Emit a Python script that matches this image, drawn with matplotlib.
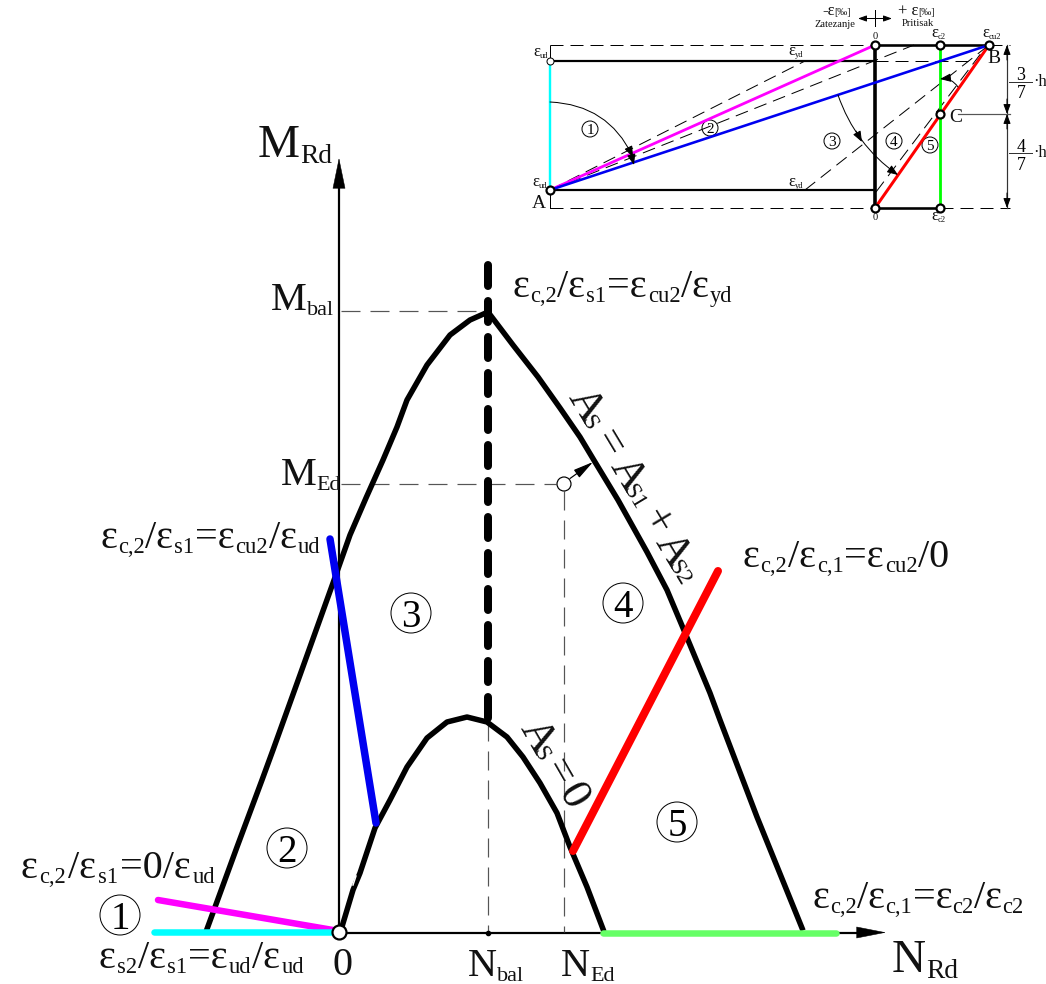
import re
import matplotlib
matplotlib.use("Agg")
import matplotlib.pyplot as plt
import numpy as np
from matplotlib.patches import Circle, FancyArrowPatch

plt.rcParams['font.family'] = ['Liberation Serif', 'DejaVu Sans']
plt.rcParams['lines.scale_dashes'] = False

# main diagram, picture coordinates
outer_x = [207, 237, 262, 273, 300, 333, 350, 366, 383, 397, 407, 427, 450, 470, 488,
           513, 538, 560, 580, 595, 618, 647, 667, 683, 710, 720, 757, 802]
outer_y = [929, 847, 780, 750, 675, 583, 535, 498, 460, 427, 400, 365, 335, 320, 312,
           345, 377, 408, 437, 462, 500, 552, 590, 628, 693, 720, 817, 928]
inner_x = [341, 353, 360, 375, 390, 407, 427, 447, 467, 487, 507, 523, 540, 557, 570, 587, 603]
inner_y = [930, 890, 873, 828, 800, 767, 738, 722, 717, 722, 737, 757, 783, 813, 847, 887, 929]
blue_x, blue_y = [330, 376], [539, 823]
red_x, red_y = [718, 573], [571, 851]
green_x, green_y = [603, 836], [933, 933]
magenta_x, magenta_y = [158, 333], [900, 930]
cyan_x, cyan_y = [154, 333], [932, 932]
balance_x, balance_y = [488, 488], [265, 720]
regions = ['1', '2', '3', '4', '5']
regions_x = [120, 287, 411, 623, 677]
regions_y = [915, 848, 613, 603, 822]

axis_names = ['M_{Rd}', 'N_{Rd}']
axis_names_x = [258, 892]
axis_names_y = [157, 972]
tick_names = ['M_{bal}', 'M_{Ed}', 'N_{bal}', 'N_{Ed}', '0']
tick_names_x = [271, 281, 468, 561, 332]
tick_names_y = [310, 485, 976, 976, 975]
eps_texts = ['ε_{c,2}/ε_{s1}=ε_{cu2}/ε_{yd}', 'ε_{c,2}/ε_{s1}=ε_{cu2}/ε_{ud}', 'ε_{c,2}/ε_{c,1}=ε_{cu2}/0',
             'ε_{c,2}/ε_{c,1}=ε_{c2}/ε_{c2}', 'ε_{c,2}/ε_{s1}=0/ε_{ud}', 'ε_{s2}/ε_{s1}=ε_{ud}/ε_{ud}']
eps_x = [512, 100, 743, 813, 20, 99]
eps_y = [297, 548, 567, 908, 878, 968]
eps_gaps = [0.03, 0.026, 0.025, 0.01, 0.07, 0.035]
steel_parts = ['A_{S}', '=', 'A_{S1}', '+', 'A_{S2}']
steel_offsets = [0, 48, 80, 140, 169]
plain_parts = ['A_{S}', '=', '0']
plain_offsets = [0, 46, 74]

# small section sketch
ix0, ix1, ix2, ix3 = 550, 875, 940, 989
iy0, iy1, iy2, iy3, iy4 = 45, 61, 190, 208, 114
inset_dashes = [
    ([ix0, ix1], [iy0, iy0]),
    ([ix0, ix1], [iy3, iy3]),
    ([ix0, ix0], [iy0, iy1]),
    ([ix1, 970], [iy1, iy1]),
    ([550, 805], [190, 61]),
    ([550, 914], [190, 45]),
    ([805, 989], [190, 45]),
    ([876, 985], [192, 48]),
    ([989, 1010], [45, 45]),
    ([940, 1010], [208, 208]),
]
inset_numbers = ['1', '2', '3', '4', '5']
inset_numbers_x = [590, 710, 832, 894, 930]
inset_numbers_y = [129, 128, 141, 141, 145]
inset_nodes_x = [875, 940, 989, 940, 875, 940, 550]
inset_nodes_y = [45, 45, 45, 114, 208, 208, 190]
strain_texts = ['ε_{ud}', 'ε_{ud}', 'ε_{yd}', 'ε_{yd}', 'ε_{c2}', 'ε_{c2}', 'ε_{cu2}', '·h', '·h']
strain_x = [533, 532, 788, 788, 931, 931, 982, 1033, 1033]
strain_y = [56, 186, 55, 186, 37, 220, 37, 86, 157]
point_names = ['A', 'B', 'C']
point_x = [532, 987, 949]
point_y = [208, 63, 122]
small_texts = ['0', '0', 'Zatezanje', 'Pritisak']
small_x = [873, 873, 814, 902]
small_y = [39, 220, 27, 26]
sign_texts = ['-ε_{[‰]}', '+ ε_{[‰]}']
sign_x = [822, 898]
sign_y = [15, 15]
fraction_digits = ['3', '7', '4', '7']
fraction_y = [74, 91, 145, 163]

PX = 0.72


def px(w):
    return w * PX


fig = plt.figure(figsize=(10.46, 9.84), dpi=100)
ax = fig.add_axes([0, 0, 1, 1])
ax.set_xlim(0, 1046)
ax.set_ylim(984, 0)
ax.axis('off')
renderer = fig.canvas.get_renderer()


#write a label with real lowered subscripts, run by run
def rich(label, x, y, size, rotation=0, sub=0.56, drop=0.12, gap=0.0):
    rad = np.radians(rotation)
    for i, run in enumerate(re.split(r'_\{(.*?)\}', label)):
        if not run:
            continue
        is_sub = i % 2 == 1
        fs = size * sub if is_sub else size
        d = size * drop / PX if is_sub else 0
        t = ax.text(x + d * np.sin(rad), y + d * np.cos(rad), run, fontsize=fs, color='#111111',
                    rotation=rotation, rotation_mode='anchor', ha='left', va='baseline')
        t.set_rotation(0)
        w = t.get_window_extent(renderer).width
        t.set_rotation(rotation)
        w += size * gap
        x += w * np.cos(rad)
        y -= w * np.sin(rad)


#parts set by hand along a slanted baseline
def slanted(parts, offsets, x, y, size, rotation):
    rad = np.radians(rotation)
    for part, off in zip(parts, offsets):
        rich(part, x + off * np.cos(rad), y - off * np.sin(rad), size, rotation=rotation, sub=0.55, drop=0.02, gap=-0.18)


def arrow(p0, p1, lw=1.0, rad=0.0, hl=9, hw=3.5):
    style = f'-|>,head_length={px(hl) / 10},head_width={px(hw) / 10}'
    ax.add_patch(FancyArrowPatch(p0, p1, arrowstyle=style, mutation_scale=10, lw=px(lw), color='black',
                                 shrinkA=0, shrinkB=0, connectionstyle=f'arc3,rad={rad}', zorder=6))


def number(ch, x, y, r, size):
    ax.add_patch(Circle((x, y), r, fc='none', ec='black', lw=px(1.0)))
    ax.text(x, y, ch, fontsize=size, ha='center', va='center_baseline', color='black')


# axes
ax.plot([339, 339], [932, 180], color='black', lw=px(2.2))
ax.plot([339, 870], [932.5, 932.5], color='black', lw=px(2.2))
arrow((339, 190), (339, 158), lw=0.5, hl=29, hw=6)
arrow((855, 932.5), (886, 932.5), lw=0.5, hl=28, hw=5.5)

# thin guide lines
guide = dict(color='#555555', lw=px(1.2), linestyle=(0, (px(19), px(10))))
ax.plot([341, 488], [311, 311], **guide)
ax.plot([341, 556], [484, 484], **guide)
ax.plot([488, 488], [722, 932], **guide)
ax.plot([564, 564], [491, 932], **guide)
ax.plot([488], [932.5], 'o', color='black', ms=3)

# curves
ax.plot(outer_x, outer_y, color='black', lw=px(5.5), solid_joinstyle='round')
ax.plot(inner_x, inner_y, color='black', lw=px(5.5), solid_joinstyle='round')
ax.plot(balance_x, balance_y, color='black', lw=px(8), linestyle=(0, (px(21), px(15))), dash_capstyle='round')
ax.plot([356, 353], [876, 885], color='white', lw=px(1.5))

for xs, ys, col, w in [(magenta_x, magenta_y, '#ff00ff', 6.5), (cyan_x, cyan_y, '#00ffff', 6.5),
                       (green_x, green_y, '#66ff66', 6.5), (blue_x, blue_y, '#0000f0', 7.5),
                       (red_x, red_y, '#ff0000', 8)]:
    ax.plot(xs, ys, color=col, lw=px(w), solid_capstyle='round', zorder=4)

ax.add_patch(Circle((339.5, 932.5), 7, fc='white', ec='black', lw=px(2.2), zorder=5))
ax.add_patch(Circle((564, 484), 7, fc='white', ec='black', lw=px(1.2), zorder=5))
arrow((570, 478.5), (593, 462), lw=1.2, hl=17, hw=4)

for ch, x, y in zip(regions, regions_x, regions_y):
    number(ch, x, y, 20, 28)

for label, x, y in zip(axis_names, axis_names_x, axis_names_y):
    rich(label, x, y, 34, sub=0.58)
for label, x, y in zip(tick_names, tick_names_x, tick_names_y):
    rich(label, x, y, 29, sub=0.55)
for label, x, y, g in zip(eps_texts, eps_x, eps_y, eps_gaps):
    rich(label, x, y, 29, gap=g)

slanted(steel_parts, steel_offsets, 568, 397, 32, -59)
slanted(plain_parts, plain_offsets, 520, 728, 32, -60)

# inset
for xs, ys in inset_dashes:
    ax.plot(xs, ys, color='black', lw=px(1.0), linestyle=(0, (px(13), px(7))))
ax.plot([ix0, ix0], [iy2, iy3], color='black', lw=px(1.0))
ax.plot([ix0, ix1], [iy1, iy1], color='black', lw=px(2.2))
ax.plot([ix0, ix1], [iy2, iy2], color='black', lw=px(2.2))
ax.plot([ix1, ix1], [iy0, iy3], color='black', lw=px(3.6))
ax.plot([ix1, ix3], [iy0, iy0], color='black', lw=px(2.6))
ax.plot([ix1, ix2], [iy3, iy3], color='black', lw=px(2.6))
ax.plot([ix0, ix0], [iy1, iy2], color='#00ffff', lw=px(2.4))
ax.plot([ix2, ix2], [iy0, iy3], color='#00ff00', lw=px(2.8))
ax.plot([ix0, ix1], [iy2, iy0], color='#ff00ff', lw=px(2.8))
ax.plot([ix0, ix3], [iy2, iy0], color='#0000f0', lw=px(2.6))
ax.plot([ix1, ix3], [iy3, iy0], color='#ff0000', lw=px(3))
ax.plot(inset_nodes_x, inset_nodes_y, 'o', mfc='white', mec='black', mew=px(2.2), ms=px(8), linestyle='none', zorder=6)
ax.plot([ix0], [iy1], 'o', mfc='white', mec='black', mew=px(1), ms=px(7), zorder=6)

arrow((550, 102), (633, 157), rad=-0.3)
arrow((630, 150), (634, 165))
arrow((838, 95), (898, 175), rad=0.16)
arrow((856, 131), (862, 142))
arrow((958, 87), (940, 79), rad=0.3)

for ch, x, y in zip(inset_numbers, inset_numbers_x, inset_numbers_y):
    number(ch, x, y, 8, 11)
for label, x, y in zip(strain_texts, strain_x, strain_y):
    rich(label, x, y, 12, sub=0.52, drop=0.1)
for label, x, y in zip(point_names, point_x, point_y):
    rich(label, x, y, 14)
for label, x, y in zip(small_texts, small_x, small_y):
    rich(label, x, y, 7.6)
for label, x, y in zip(sign_texts, sign_x, sign_y):
    rich(label, x, y, 12, sub=0.6, drop=0.0)

# dimension lines
ax.plot([1007, 1007], [45, 208], color='#333333', lw=px(1.2))
ax.plot([958, 1010], [114, 114], color='#555555', lw=px(1.2))
for y0, y1 in [(60, 45), (99, 114), (129, 114), (193, 208)]:
    arrow((1007, y0), (1007, y1), hl=8, hw=3)
ax.plot([1009, 1032], [81.5, 81.5], color='#333333', lw=px(1))
ax.plot([1009, 1032], [152.5, 152.5], color='#333333', lw=px(1))
for ch, y in zip(fraction_digits, fraction_y):
    ax.text(1021, y, ch, fontsize=13, ha='center', va='center_baseline')

# sign arrows
arrow((875, 18.5), (892, 18.5), hl=7, hw=2.5)
arrow((875, 18.5), (858, 18.5), hl=7, hw=2.5)
ax.plot([875, 875], [10, 26], color='black', lw=px(1))

fig.savefig('out.png', dpi=100)
